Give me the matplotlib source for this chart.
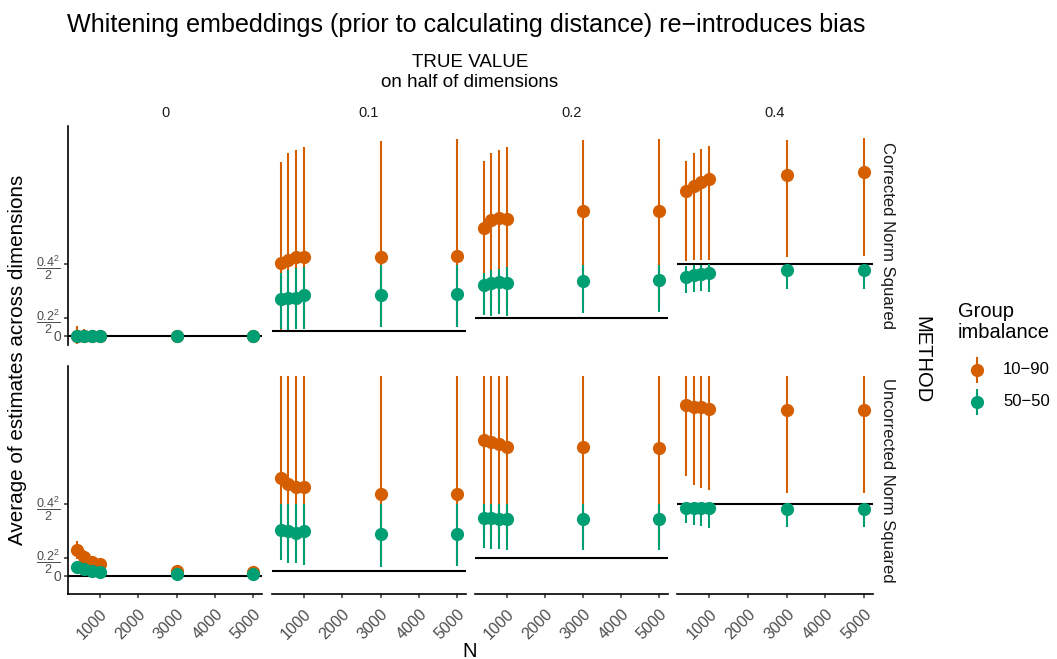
import numpy as np
import matplotlib
matplotlib.use('Agg')
import matplotlib.pyplot as plt
from matplotlib.lines import Line2D

plt.rcParams['font.family'] = ['Liberation Sans', 'DejaVu Sans']
plt.rcParams['mathtext.fontset'] = 'custom'
plt.rcParams['mathtext.rm'] = 'Liberation Sans'
plt.rcParams['mathtext.it'] = 'Liberation Sans:italic'

# sample sizes and facets
N = [400, 600, 800, 1000, 3000, 5000]
true_values = [0, 0.1, 0.2, 0.4]
strip_cols = ['0', '0.1', '0.2', '0.4']
methods = ['Corrected Norm Squared', 'Uncorrected Norm Squared']
groups = ['10\u221290', '50\u221250']
colors = ['#D55E00', '#009E73']

# Corrected Norm Squared, group 10-90 (one row per true value)
corr_1090_est = [[0.0, 0.0, 0.0, 0.0, 0.0, 0.0],
                 [0.081, 0.084, 0.087, 0.088, 0.087, 0.089],
                 [0.120, 0.129, 0.131, 0.130, 0.139, 0.139],
                 [0.161, 0.167, 0.171, 0.174, 0.179, 0.182]]
corr_1090_lo = [[-0.0095, -0.006, -0.005, -0.004, -0.002, -0.0015],
                [0.006, 0.006, 0.007, 0.007, 0.009, 0.009],
                [0.024, 0.031, 0.028, 0.031, 0.034, 0.031],
                [0.083, 0.084, 0.084, 0.084, 0.088, 0.089]]
corr_1090_hi = [[0.0105, 0.007, 0.006, 0.005, 0.003, 0.002],
                [0.193, 0.203, 0.207, 0.210, 0.217, 0.219],
                [0.194, 0.203, 0.207, 0.210, 0.218, 0.219],
                [0.194, 0.203, 0.208, 0.211, 0.218, 0.220]]

# Corrected Norm Squared, group 50-50
corr_5050_est = [[0.0, 0.0, 0.0, 0.0, 0.0, 0.0],
                 [0.041, 0.042, 0.042, 0.045, 0.045, 0.046],
                 [0.056, 0.0585, 0.060, 0.059, 0.061, 0.0615],
                 [0.065, 0.067, 0.0685, 0.070, 0.073, 0.073]]
corr_5050_lo = [[-0.005, -0.004, -0.0035, -0.003, -0.002, -0.0015],
                [0.007, 0.006, 0.007, 0.007, 0.009, 0.009],
                [0.023, 0.022, 0.024, 0.0215, 0.025, 0.026],
                [0.047, 0.049, 0.050, 0.0485, 0.052, 0.052]]
corr_5050_hi = [[0.005, 0.004, 0.0035, 0.003, 0.002, 0.0015],
                [0.070, 0.073, 0.0755, 0.076, 0.079, 0.079],
                [0.0696, 0.0726, 0.0744, 0.076, 0.0785, 0.079],
                [0.078, 0.079, 0.079, 0.080, 0.080, 0.080]]

# Uncorrected Norm Squared, group 10-90
unc_1090_est = [[0.0287, 0.0205, 0.0157, 0.013, 0.0052, 0.0037],
                [0.109, 0.102, 0.099, 0.0986, 0.091, 0.091],
                [0.151, 0.149, 0.147, 0.1437, 0.1437, 0.1426],
                [0.190, 0.188, 0.1875, 0.186, 0.184, 0.185]]
unc_1090_lo = [[0.019, 0.014, 0.010, 0.008, 0.003, 0.002],
               [0.034, 0.026, 0.021, 0.016, 0.014, 0.012],
               [0.048, 0.042, 0.040, 0.038, 0.036, 0.035],
               [0.1105, 0.101, 0.098, 0.095, 0.092, 0.092]]
unc_1090_hi = [[0.0387, 0.028, 0.022, 0.018, 0.008, 0.006],
               [0.222, 0.222, 0.222, 0.222, 0.222, 0.222],
               [0.222, 0.222, 0.222, 0.222, 0.222, 0.222],
               [0.222, 0.222, 0.222, 0.222, 0.222, 0.222]]

# Uncorrected Norm Squared, group 50-50
unc_5050_est = [[0.010, 0.0071, 0.0052, 0.0045, 0.0015, 0.0015],
                [0.051, 0.050, 0.048, 0.0496, 0.0465, 0.0465],
                [0.0645, 0.064, 0.0635, 0.063, 0.0625, 0.0625],
                [0.0752, 0.0752, 0.0752, 0.0752, 0.0741, 0.0741]]
unc_5050_lo = [[0.005, 0.003, 0.002, 0.0015, 0.0, 0.0],
               [0.0175, 0.0145, 0.0138, 0.012, 0.010, 0.011],
               [0.031, 0.030, 0.030, 0.029, 0.028, 0.028],
               [0.0585, 0.0566, 0.0555, 0.053, 0.0536, 0.0536]]
unc_5050_hi = [[0.015, 0.011, 0.0085, 0.0075, 0.003, 0.003],
               [0.080, 0.080, 0.080, 0.080, 0.080, 0.080],
               [0.080, 0.080, 0.080, 0.080, 0.080, 0.080],
               [0.080, 0.080, 0.080, 0.080, 0.080, 0.080]]

series = {
    (0, 0): (corr_1090_est, corr_1090_lo, corr_1090_hi),
    (0, 1): (corr_5050_est, corr_5050_lo, corr_5050_hi),
    (1, 0): (unc_1090_est, unc_1090_lo, unc_1090_hi),
    (1, 1): (unc_5050_est, unc_5050_lo, unc_5050_hi),
}

W, H = 1057, 659
fig = plt.figure(figsize=(W / 100, H / 100), dpi=100)

col_px = [(68, 262), (272, 466), (475, 668), (677, 873)]
row_px = [(126, 345), (366, 594)]
ylims = [(-0.0105, 0.2335), (-0.0205, 0.2335)]

grey_txt = '#4D4D4D'

for r in range(2):
    for c in range(4):
        x0, x1 = col_px[c]
        y0, y1 = row_px[r]
        ax = fig.add_axes([x0 / W, 1 - y1 / H, (x1 - x0) / W, (y1 - y0) / H])
        ax.set_xlim(170, 5230)
        ax.set_ylim(*ylims[r])
        ax.axhline(true_values[c] ** 2 / 2, color='black', lw=1.5, zorder=1)
        for g in range(2):
            est, lo, hi = series[(r, g)]
            ax.vlines(N, lo[c], hi[c], color=colors[g], lw=1.5, zorder=2 + 2 * g)
            ax.plot(N, est[c], 'o', ms=9.5, color=colors[g], mec='none', zorder=3 + 2 * g)
        for s in ax.spines.values():
            s.set_visible(False)
        ax.set_xticks([1000, 2000, 3000, 4000, 5000])
        ax.set_yticks([0, 0.02, 0.08])
        ax.tick_params(length=3, width=1.1, color='#333333', labelcolor=grey_txt)
        if r == 1:
            ax.spines['bottom'].set_visible(True)
            ax.spines['bottom'].set_linewidth(1.2)
            ax.set_xticklabels(['1000', '2000', '3000', '4000', '5000'], fontsize=11.5)
            plt.setp(ax.get_xticklabels(), rotation=45, ha='right', rotation_mode='anchor')
            ax.tick_params(axis='x', pad=6)
        else:
            ax.tick_params(axis='x', bottom=False, labelbottom=False)
        if c == 0:
            ax.spines['left'].set_visible(True)
            ax.spines['left'].set_linewidth(1.2)
            ax.set_yticklabels(['0', r'$\dfrac{0.2^2}{2}$', r'$\dfrac{0.4^2}{2}$'])
            labs = ax.get_yticklabels()
            labs[0].set_fontsize(10)
            labs[1].set_fontsize(9)
            labs[2].set_fontsize(9)
            ax.tick_params(axis='y', pad=2)
        else:
            ax.tick_params(axis='y', left=False, labelleft=False)

# column strips
for c in range(4):
    x0, x1 = col_px[c]
    fig.text((x0 + x1) / 2 / W, 1 - 117 / H, strip_cols[c], ha='center', va='baseline',
             fontsize=10.5, color='#1A1A1A')

# row strips
for r in range(2):
    y0, y1 = row_px[r]
    fig.text(888 / W, 1 - (y0 + y1) / 2 / H, methods[r], rotation=270, ha='center',
             va='center', fontsize=12, color='#1A1A1A')

fig.text(67 / W, 1 - 32 / H, 'Whitening embeddings (prior to calculating distance) re\u2212introduces bias',
         ha='left', va='baseline', fontsize=18.1)
fig.text(470 / W, 1 - 67 / H, 'TRUE VALUE', ha='center', va='baseline', fontsize=13.5)
fig.text(470 / W, 1 - 87 / H, 'on half of dimensions', ha='center', va='baseline', fontsize=13.5)
fig.text(18 / W, 1 - 360 / H, 'Average of estimates across dimensions', rotation=90,
         ha='center', va='center', fontsize=14.9)
fig.text(470 / W, 1 - 642 / H, 'N', ha='center', va='top', fontsize=14.5)
fig.text(922 / W, 1 - 360 / H, 'METHOD', rotation=270, ha='center', va='center', fontsize=14.5)

# legend
fig.text(958 / W, 1 - 322 / H, 'Group\nimbalance', ha='left', va='center', fontsize=14.5,
         linespacing=1.15)
for g, yk in enumerate([370, 402]):
    fig.add_artist(Line2D([977 / W, 977 / W], [1 - (yk - 12) / H, 1 - (yk + 12) / H],
                          color=colors[g], lw=1.5, transform=fig.transFigure))
    fig.add_artist(Line2D([977 / W], [1 - yk / H], marker='o', ms=9.5, color=colors[g],
                          mec='none', transform=fig.transFigure))
    fig.text(1003 / W, 1 - yk / H, groups[g], ha='left', va='center', fontsize=12)

fig.savefig('out.png', dpi=100)
